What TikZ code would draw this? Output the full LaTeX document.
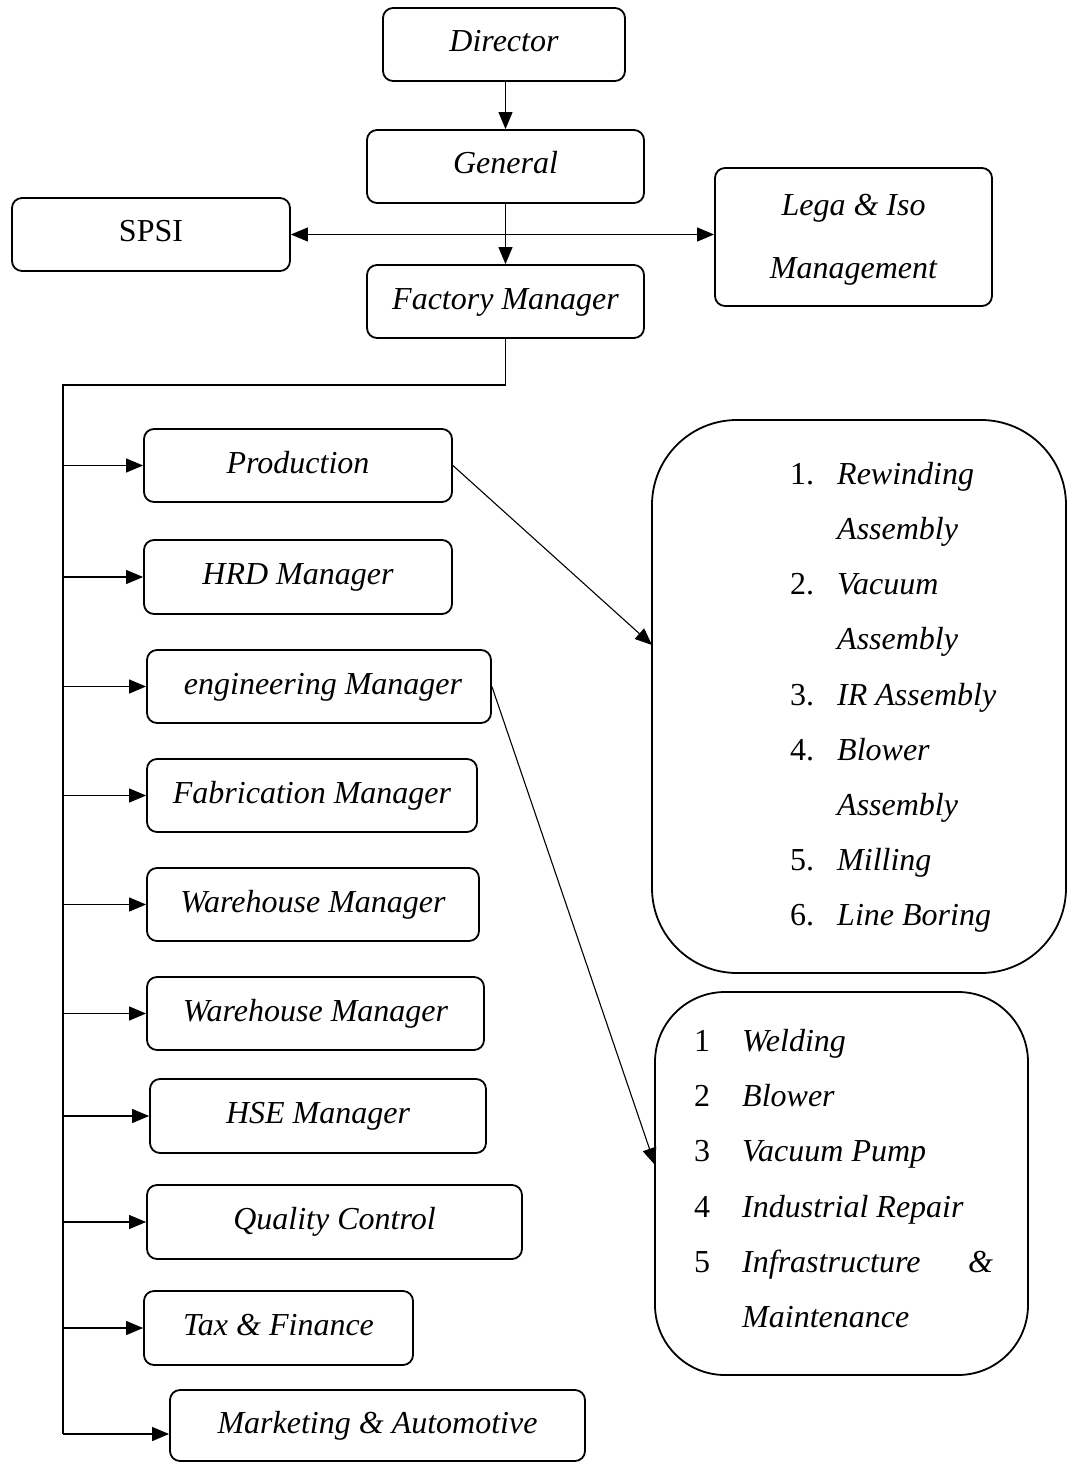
\documentclass[tikz,border=0pt]{standalone}
\usepackage{fontspec}
\setmainfont{Liberation Serif}
\usetikzlibrary{arrows.meta,calc}
\begin{document}
\begin{tikzpicture}[x=1pt,y=-1pt,
  box/.style={draw, line width=1.8pt, rounded corners=10pt, minimum height=73pt, inner sep=0pt,
    text height=22pt, text depth=7pt, font=\fontsize{32}{62}\selectfont\itshape, align=center},
  bigbox/.style={draw, line width=1.8pt, inner sep=0pt},
  conn/.style={line width=1.1pt},
  arr/.style={conn, -{Triangle[length=17pt,width=14pt]}},
  item/.style={anchor=base west, inner sep=0pt, font=\fontsize{32}{62}\selectfont},
  arrboth/.style={conn, {Triangle[length=17pt,width=14pt]}-{Triangle[length=17pt,width=14pt]}}
]
\useasboundingbox (0,0) rectangle (1068,1463);

% top part
\node[box, minimum width=242pt] (Director) at (504,44.5) {Director};
\node[box, minimum width=277pt] (General) at (505.5,166.5) {General};
\node[box, minimum width=278pt, font=\fontsize{32}{62}\selectfont\upshape] (SPSI) at (151,234.5) {SPSI};
\node[box, minimum width=277pt, minimum height=138pt] (Lega) at (853.5,237) {};
\node[item, anchor=base] (legaA) at (853.5,216) {\itshape Lega \& Iso};
\node[item, anchor=base] (legaB) at (853.5,278) {\itshape Management};
\node[box, minimum width=277pt] (Factory) at (505.5,301.5) {Factory Manager};

\draw[arr] (Director.south -| General.north) -- (General.north);
\draw[arr] (General.south) -- (Factory.north);
\draw[arrboth] (SPSI.east) -- (SPSI.east -| Lega.west);

% departments
\node[box, minimum width=308pt] (Production) at (298,465.5) {Production};
\node[box, minimum width=308pt, minimum height=74pt] (HRD) at (298,577) {HRD Manager};
\node[box, minimum width=344pt] (Engineering) at (319,686.5) {\hspace*{8pt}engineering Manager};
\node[box, minimum width=330pt] (Fabrication) at (312,795.5) {Fabrication Manager};
\node[box, minimum width=332pt] (WarehouseA) at (313,904.5) {Warehouse Manager};
\node[box, minimum width=337pt] (WarehouseB) at (315.5,1013.5) {Warehouse Manager};
\node[box, minimum width=336pt, minimum height=74pt] (HSE) at (318,1116) {HSE Manager};
\node[box, minimum width=375pt, minimum height=74pt] (Quality) at (334.5,1222) {Quality Control};
\node[box, minimum width=269pt, minimum height=74pt] (Tax) at (278.5,1328) {Tax \& Finance};
\node[box, minimum width=415pt, minimum height=71pt] (Marketing) at (377.5,1425.5) {Marketing \& Automotive};

% trunk
\coordinate (tTop) at (63,385);
\coordinate (tBot) at (63,1434);
\draw[conn] (Factory.south) |- (tTop) -- (tBot);
\draw[arr] (tBot) -- (tBot -| Marketing.west);
\foreach \n in {Production,HRD,Engineering,Fabrication,WarehouseA,WarehouseB,HSE,Quality,Tax}
  \draw[arr] (\n.west -| tTop) -- (\n.west);

% big boxes
\node[bigbox, rounded corners=85pt, minimum width=414pt, minimum height=553pt] (BoxA) at (859,696.5) {};
\node[bigbox, rounded corners=70pt, minimum width=373pt, minimum height=383pt] (BoxB) at (841.5,1183.5) {};

\coordinate (pA) at (652,645);
\coordinate (pB) at (655,1165);
\draw[arr] (Production.east) -- (pA);
\draw[arr] (Engineering.east) -- (pB);

% list A
\node[item] (a1n) at (790,484) {1.};
\node[item] (a1t) at (837,484) {\itshape Rewinding};
\node[item] (a1u) at (837,539) {\itshape Assembly};
\node[item] (a2n) at (790,594) {2.};
\node[item] (a2t) at (837,594) {\itshape Vacuum};
\node[item] (a2u) at (837,649) {\itshape Assembly};
\node[item] (a3n) at (790,705) {3.};
\node[item] (a3t) at (837,705) {\itshape IR Assembly};
\node[item] (a4n) at (790,760) {4.};
\node[item] (a4t) at (837,760) {\itshape Blower};
\node[item] (a4u) at (837,815) {\itshape Assembly};
\node[item] (a5n) at (790,870) {5.};
\node[item] (a5t) at (837,870) {\itshape Milling};
\node[item] (a6n) at (790,925) {6.};
\node[item] (a6t) at (837,925) {\itshape Line Boring};

% list B
\node[item] (b1n) at (694,1051) {1};
\node[item] (b1t) at (742,1051) {\itshape Welding};
\node[item] (b2n) at (694,1106) {2};
\node[item] (b2t) at (742,1106) {\itshape Blower};
\node[item] (b3n) at (694,1161) {3};
\node[item] (b3t) at (742,1161) {\itshape Vacuum Pump};
\node[item] (b4n) at (694,1217) {4};
\node[item] (b4t) at (742,1217) {\itshape Industrial Repair};
\node[item] (b5n) at (694,1272) {5};
\node[item] (b5t) at (742,1272) {\itshape Infrastructure};
\node[item] (b5a) at (968,1272) {\itshape \&};
\node[item] (b5u) at (742,1327) {\itshape Maintenance};
\end{tikzpicture}
\end{document}
